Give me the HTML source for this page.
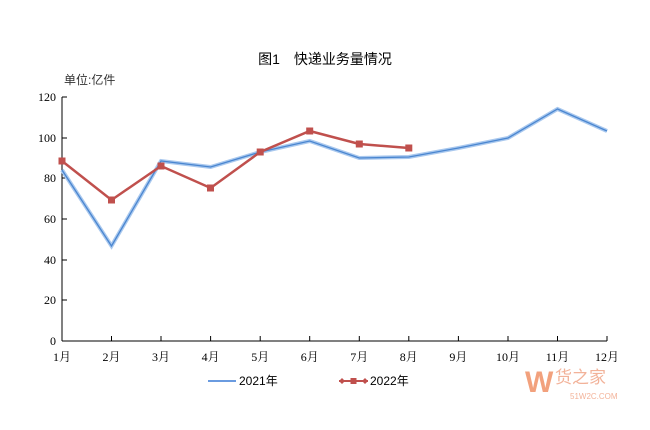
<!DOCTYPE html>
<html><head><meta charset="utf-8"><style>
html,body{margin:0;padding:0;background:#fff;}
svg{display:block;font-family:"Liberation Serif","Noto Serif CJK SC",serif;}
</style></head><body>
<svg width="650" height="430" viewBox="0 0 650 430" xmlns="http://www.w3.org/2000/svg">
<text x="325" y="64" text-anchor="middle" font-size="14" font-family="Liberation Sans, Noto Sans CJK SC, sans-serif" fill="#000">图1　快递业务量情况</text>
<text x="64" y="84" font-size="12" font-family="Liberation Sans, Noto Sans CJK SC, sans-serif" fill="#333">单位:亿件</text>
<g stroke="#000" stroke-width="1" fill="none">
<line x1="62" y1="97" x2="62" y2="341"/>
<line x1="62" y1="341" x2="607" y2="341"/>
<line x1="62" y1="97" x2="67" y2="97"/><line x1="62" y1="138" x2="67" y2="138"/><line x1="62" y1="178" x2="67" y2="178"/><line x1="62" y1="219" x2="67" y2="219"/><line x1="62" y1="260" x2="67" y2="260"/><line x1="62" y1="300" x2="67" y2="300"/>
<path d="M111.5 341v-5M161 341v-5M210.6 341v-5M260.2 341v-5M309.7 341v-5M359.3 341v-5M408.8 341v-5M458.4 341v-5M508 341v-5M557.5 341v-5M607 341v-5"/>
</g>
<g font-size="12" fill="#000" text-anchor="end">
<text x="56" y="101">120</text><text x="56" y="142">100</text><text x="56" y="182">80</text><text x="56" y="223">60</text><text x="56" y="264">40</text><text x="56" y="304">20</text><text x="56" y="345">0</text>
</g>
<g font-size="12" fill="#000" text-anchor="middle" font-family="Liberation Serif, Noto Serif CJK SC, serif">
<text x="62" y="361">1月</text><text x="111.5" y="361">2月</text><text x="161" y="361">3月</text><text x="210.6" y="361">4月</text><text x="260.2" y="361">5月</text><text x="309.7" y="361">6月</text><text x="359.3" y="361">7月</text><text x="408.8" y="361">8月</text><text x="458.4" y="361">9月</text><text x="508" y="361">10月</text><text x="557.5" y="361">11月</text><text x="607" y="361">12月</text>
</g>
<polyline fill="none" stroke="#a9c8ee" stroke-width="4" points="62,170 111.5,246 161,161 210.6,167 260.2,152 309.7,141 359.3,158 408.8,157 458.4,148 508,138 557.5,109 607,131"/>
<polyline fill="none" stroke="#4a86d0" stroke-width="1.3" points="62,170 111.5,246 161,161 210.6,167 260.2,152 309.7,141 359.3,158 408.8,157 458.4,148 508,138 557.5,109 607,131"/>
<polyline fill="none" stroke="#c0504d" stroke-width="2.5" points="62,161 111.5,200 161,166 210.6,188 260.2,152 309.7,131 359.3,144 408.8,148"/>
<g fill="#c0504d">
<rect x="58.5" y="157.5" width="7" height="7"/><rect x="108" y="196.5" width="7" height="7"/><rect x="157.5" y="162.5" width="7" height="7"/><rect x="207" y="184.5" width="7" height="7"/><rect x="256.7" y="148.5" width="7" height="7"/><rect x="306.2" y="127.5" width="7" height="7"/><rect x="355.8" y="140.5" width="7" height="7"/><rect x="405.3" y="144.5" width="7" height="7"/>
</g>
<line x1="208" y1="381" x2="236" y2="381" stroke="#6a9be0" stroke-width="2"/>
<text x="239" y="385" font-size="12" font-family="Liberation Sans, Noto Sans CJK SC, sans-serif" fill="#000">2021年</text>
<line x1="339" y1="381" x2="368" y2="381" stroke="#c0504d" stroke-width="2"/>
<path d="M339 381l3-3 3 3-3 3zM362 381l3-3 3 3-3 3z" fill="#c0504d"/>
<rect x="350.5" y="378" width="6" height="6" fill="#c0504d"/>
<text x="370" y="385" font-size="12" font-family="Liberation Sans, Noto Sans CJK SC, sans-serif" fill="#000">2022年</text>
<text x="555" y="383" font-size="17" font-family="Liberation Sans, Noto Sans CJK SC, sans-serif" fill="#f0a080" opacity="0.8">货之家</text>
<text x="525" y="392" font-size="30" font-weight="bold" font-family="Liberation Sans, sans-serif" fill="#f08a5d" opacity="0.8">W</text>
<text x="570" y="399" font-size="8" font-family="Liberation Sans, sans-serif" fill="#f0a080" opacity="0.8">51W2C.COM</text>
</svg>
</body></html>
